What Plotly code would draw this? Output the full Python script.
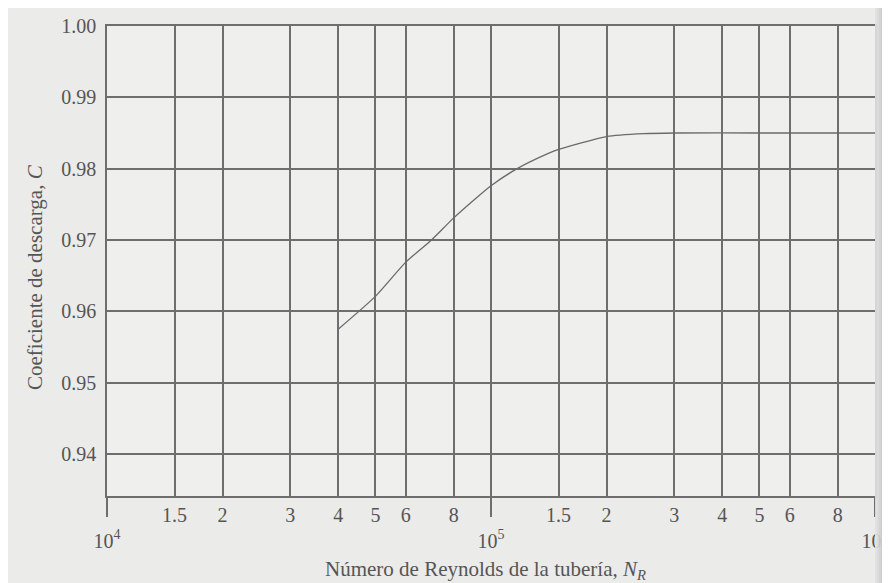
import plotly.graph_objects as go

# --- data ---
reynolds = [4.0e4, 5.0e4, 6.0e4, 7.0e4, 8.0e4, 1.0e5, 1.17e5, 1.42e5, 1.5e5,
            2.0e5, 2.5e5, 3.0e5, 5.0e5, 1.0e6]
coef = [0.9575, 0.9621, 0.9669, 0.9700, 0.9731, 0.9776, 0.9800, 0.9822, 0.9827,
        0.9845, 0.9849, 0.9850, 0.9850, 0.9850]

x_tick_vals = [1e4, 1.5e4, 2e4, 3e4, 4e4, 5e4, 6e4, 8e4,
               1e5, 1.5e5, 2e5, 3e5, 4e5, 5e5, 6e5, 8e5, 1e6]
x_tick_text = ["<br>10<sup>4</sup>", "1.5", "2", "3", "4", "5", "6", "8",
               "<br>10<sup>5</sup>", "1.5", "2", "3", "4", "5", "6", "8",
               "<br>10<sup>6</sup>"]
decades = [1e4, 1e5, 1e6]
y_tick_vals = [0.94, 0.95, 0.96, 0.97, 0.98, 0.99, 1.00]
y_tick_text = ["0.94", "0.95", "0.96", "0.97", "0.98", "0.99", "1.00"]

x_title = "Número de Reynolds de la tubería, <i>N</i><sub><i>R</i></sub>"
y_title = "Coeficiente de descarga, <i>C</i>"

ink = "#555555"
grid = "#6e6e6e"
font = "Liberation Serif, Times New Roman, serif"

fig = go.Figure()
fig.add_trace(go.Scatter(x=reynolds, y=coef, mode="lines",
                         line=dict(color="#6a6a6a", width=1.3, shape="spline", smoothing=0.6),
                         hoverinfo="skip", showlegend=False))
# invisible trace to carry the decade-tick overlay axis
fig.add_trace(go.Scatter(x=decades, y=[0.96] * len(decades), xaxis="x2", mode="markers",
                         marker=dict(opacity=0), hoverinfo="skip", showlegend=False))

xr = [4, 6]
fig.update_layout(
    width=890, height=583,
    margin=dict(l=99, r=23, t=18, b=95),
    paper_bgcolor="#ebebea",
    plot_bgcolor="#efefee",
    font=dict(family=font, color=ink, size=20),
    xaxis=dict(type="log", range=xr, tickvals=x_tick_vals, ticktext=x_tick_text,
               ticks="", showgrid=True, gridcolor=grid, gridwidth=1.6,
               showline=True, linecolor=grid, linewidth=1.6, mirror=True,
               zeroline=False, tickfont=dict(size=20), automargin=False),
    xaxis2=dict(type="log", range=xr, overlaying="x", anchor="y", side="bottom",
                tickvals=decades, showticklabels=False, ticks="outside",
                ticklen=20, tickwidth=1.6, tickcolor=grid, showgrid=False,
                showline=False, zeroline=False, automargin=False),
    yaxis=dict(range=[0.93411, 1.0], tickvals=y_tick_vals, ticktext=y_tick_text,
               ticks="", showgrid=True, gridcolor=grid, gridwidth=1.6,
               showline=True, linecolor=grid, linewidth=1.6, mirror=True,
               zeroline=False, tickfont=dict(size=20), ticklabelstandoff=5,
               automargin=False),
)

fig.add_annotation(text=x_title, xref="paper", yref="paper", x=(485 - 107) / 768, y=0,
                   yshift=-74, showarrow=False, font=dict(size=21, color=ink),
                   xanchor="center", yanchor="middle")
fig.add_annotation(text=y_title, xref="paper", yref="paper", x=0, y=(496 - 277) / 470,
                   xshift=-72, showarrow=False, textangle=-90, font=dict(size=21, color=ink),
                   xanchor="center", yanchor="middle")

# scanned-page shadow at the right edge
n = 10
for i in range(n):
    x0 = 1 + (i * 2) / 768.0
    x1 = 1 + ((i + 1) * 2) / 768.0
    shade = int(225 - i * 8)
    fig.add_shape(type="rect", xref="paper", yref="paper", x0=x0, x1=x1, y0=-0.2, y1=1.06,
                  fillcolor=f"rgb({shade},{shade},{shade})", line=dict(width=0), opacity=0.9,
                  layer="above")

fig.write_html("out.html")
